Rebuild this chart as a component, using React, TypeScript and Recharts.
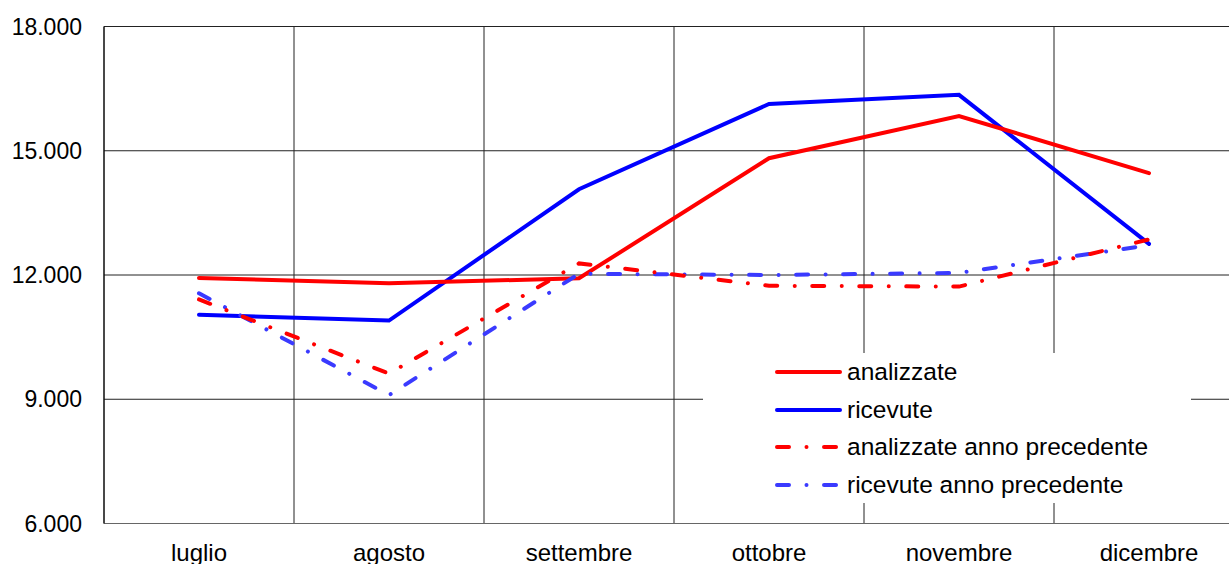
import React from 'react';
import { LineChart, Line, XAxis, YAxis, CartesianGrid } from 'recharts';

const mesi = ['luglio', 'agosto', 'settembre', 'ottobre', 'novembre', 'dicembre'];
const analizzate = [11930, 11800, 11920, 14820, 15840, 14460];
const ricevute = [11040, 10900, 14070, 16130, 16350, 12750];
const analizzatePrec = [11410, 9620, 12280, 11740, 11720, 12860];
const ricevutePrec = [11560, 9100, 12030, 12000, 12050, 12720];
const yTicks = [6000, 9000, 12000, 15000, 18000];
// band edges for the vertical grid lines (between months)
const bandEdges = [0, 1, 2, 3, 4, 5, 6];

const DASH = '12 17.5 0.01 17.5';
const FONT = '"Liberation Sans", Arial, sans-serif';

const series = [
  { key: 'ricevute', name: 'ricevute', color: '#0000ff', dash: undefined },
  { key: 'analizzate', name: 'analizzate', color: '#ff0000', dash: undefined },
  { key: 'ricevutePrec', name: 'ricevute anno precedente', color: '#3a3aff', dash: DASH },
  { key: 'analizzatePrec', name: 'analizzate anno precedente', color: '#ff0000', dash: DASH },
];
const legendOrder = ['analizzate', 'ricevute', 'analizzatePrec', 'ricevutePrec'];

const data = mesi.map((mese, i) => ({
  mese,
  idx: i + 0.5,
  analizzate: analizzate[i],
  ricevute: ricevute[i],
  analizzatePrec: analizzatePrec[i],
  ricevutePrec: ricevutePrec[i],
}));

const formatNum = (v: number) => String(v).replace(/\B(?=(\d{3})+(?!\d))/g, '.');

// legend sits over the grid with a white box, like the original
const LegendBox = () => (
  <div style={{ position: 'absolute', left: 703, top: 353, width: 488, height: 150, background: '#fff' }}>
    {legendOrder.map((k, i) => {
      const s = series.find(x => x.key === k)!;
      const top = 19 + i * 37.7;
      return (
        <div key={k} style={{ position: 'absolute', left: 0, top: top - 15, height: 30, display: 'flex', alignItems: 'center' }}>
          <svg width={144} height={30} style={{ display: 'block' }}>
            <line x1={74} y1={15} x2={137} y2={15} stroke={s.color} strokeWidth={4}
              strokeLinecap="round" strokeDasharray={s.dash} />
          </svg>
          <span style={{ fontFamily: FONT, fontSize: 24.5, color: '#000', whiteSpace: 'nowrap' }}>{s.name}</span>
        </div>
      );
    })}
  </div>
);

export default function App() {
  return (
    <div style={{ position: 'absolute', left: 0, top: 0, width: 1229, height: 564, overflow: 'hidden', background: '#fff' }}>
      <LineChart width={1244} height={564} data={data} margin={{ top: 26.5, right: 0, bottom: 0, left: 0 }}>
        <XAxis xAxisId="grid" type="number" dataKey="idx" domain={[0, 6]} ticks={bandEdges} hide />
        <CartesianGrid xAxisId="grid" stroke="#222" strokeWidth={1} />
        <XAxis
          dataKey="mese"
          height={40.5}
          padding={{ left: 95, right: 95 }}
          tickLine={false}
          tickSize={8}
          tickMargin={12}
          axisLine={{ stroke: '#666' }}
          tick={{ fontFamily: FONT, fontSize: 24, fill: '#000' }}
          interval={0}
        />
        <YAxis
          width={104}
          domain={[6000, 18000]}
          ticks={yTicks}
          tickFormatter={formatNum}
          tickLine={false}
          tickSize={10}
          tickMargin={12}
          axisLine={{ stroke: '#000' }}
          tick={{ fontFamily: FONT, fontSize: 23, fill: '#000' }}
        />
        {series.map(s => (
          <Line
            key={s.key}
            dataKey={s.key}
            name={s.name}
            type="linear"
            stroke={s.color}
            strokeWidth={4}
            strokeDasharray={s.dash}
            strokeLinecap="round"
            dot={false}
            activeDot={false}
            isAnimationActive={false}
          />
        ))}
      </LineChart>
      <LegendBox />
    </div>
  );
}
